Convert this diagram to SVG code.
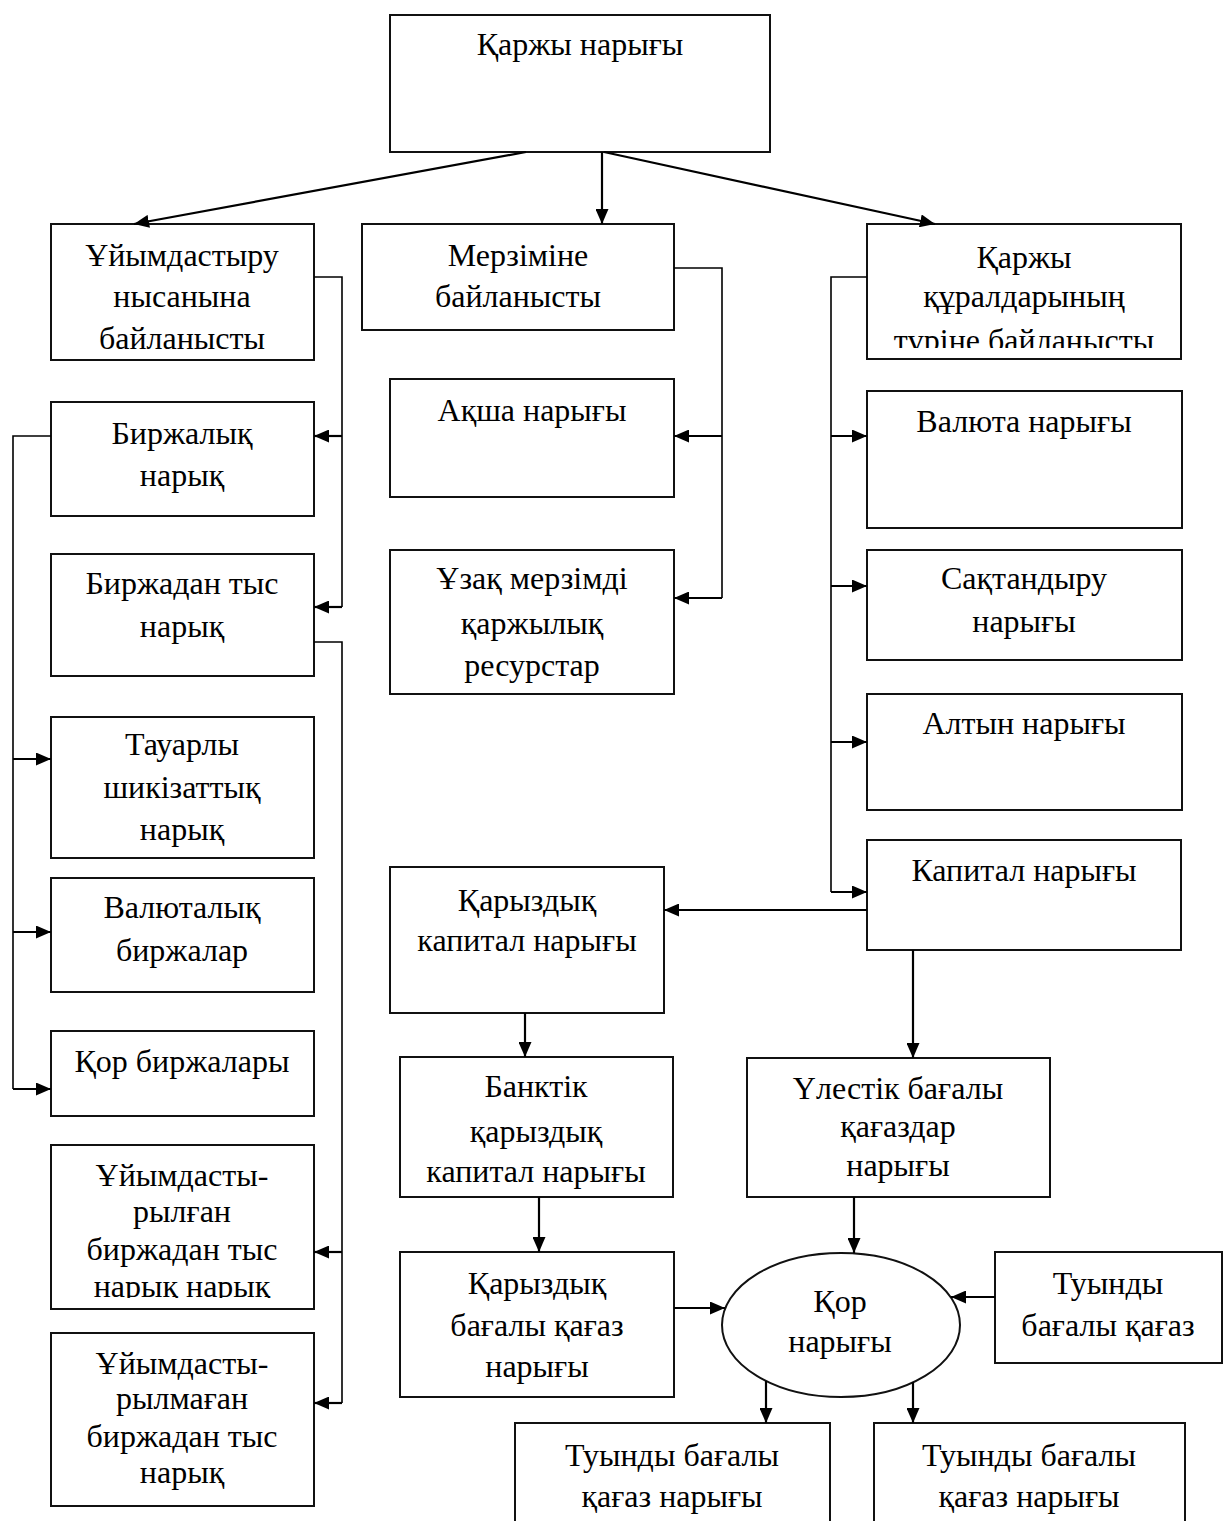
<svg xmlns="http://www.w3.org/2000/svg" width="1224" height="1521" viewBox="0 0 1224 1521">
<style>
.box{fill:#fff;stroke:#111;stroke-width:2}
.t{font-family:"Liberation Serif","Times New Roman",serif;font-size:32px;fill:#000;text-anchor:middle}
.ln{fill:none;stroke:#000;stroke-width:1.6}
.ar{fill:none;stroke:#000;stroke-width:2.2;marker-end:url(#ah)}
</style>
<defs>
<marker id="ah" viewBox="0 0 10 10" refX="10" refY="5" markerWidth="15" markerHeight="13" markerUnits="userSpaceOnUse" orient="auto" preserveAspectRatio="none">
<path d="M0,0 L10,5 L0,10 z" fill="#000"/>
</marker>
<clipPath id="c1"><rect x="867" y="224" width="314" height="124"/></clipPath>
<clipPath id="c2"><rect x="51" y="1145" width="263" height="153"/></clipPath>
</defs>
<rect width="1224" height="1521" fill="#fff"/>
<g id="n-top"><rect class="box" x="390" y="15" width="380" height="137"/><text class="t" x="580" y="55">Қаржы нарығы</text></g>
<g id="n-org"><rect class="box" x="51" y="224" width="263" height="136"/><text class="t" x="182" y="266">Ұйымдастыру</text><text class="t" x="182" y="307">нысанына</text><text class="t" x="182" y="349">байланысты</text></g>
<g id="n-term"><rect class="box" x="362" y="224" width="312" height="106"/><text class="t" x="518" y="266">Мерзіміне</text><text class="t" x="518" y="307">байланысты</text></g>
<g id="n-instr"><rect class="box" x="867" y="224" width="314" height="135"/><g clip-path="url(#c1)"><text class="t" x="1024" y="268">Қаржы</text><text class="t" x="1024" y="307">құралдарының</text><text class="t" x="1024" y="351">түріне байланысты</text></g></g>
<g id="n-exch"><rect class="box" x="51" y="402" width="263" height="114"/><text class="t" x="182" y="444">Биржалық</text><text class="t" x="182" y="486">нарық</text></g>
<g id="n-otc"><rect class="box" x="51" y="554" width="263" height="122"/><text class="t" x="182" y="594">Биржадан тыс</text><text class="t" x="182" y="637">нарық</text></g>
<g id="n-comm"><rect class="box" x="51" y="717" width="263" height="141"/><text class="t" x="182" y="755">Тауарлы</text><text class="t" x="182" y="798">шикізаттық</text><text class="t" x="182" y="840">нарық</text></g>
<g id="n-curx"><rect class="box" x="51" y="878" width="263" height="114"/><text class="t" x="182" y="918">Валюталық</text><text class="t" x="182" y="961">биржалар</text></g>
<g id="n-stockx"><rect class="box" x="51" y="1031" width="263" height="85"/><text class="t" x="182" y="1072">Қор биржалары</text></g>
<g id="n-orgotc"><rect class="box" x="51" y="1145" width="263" height="164"/><g clip-path="url(#c2)"><text class="t" x="182" y="1186">Ұйымдасты-</text><text class="t" x="182" y="1222">рылған</text><text class="t" x="182" y="1260">биржадан тыс</text><text class="t" x="182" y="1297">нарық нарық</text></g></g>
<g id="n-unorgotc"><rect class="box" x="51" y="1333" width="263" height="173"/><text class="t" x="182" y="1374">Ұйымдасты-</text><text class="t" x="182" y="1409">рылмаған</text><text class="t" x="182" y="1447">биржадан тыс</text><text class="t" x="182" y="1483">нарық</text></g>
<g id="n-money"><rect class="box" x="390" y="379" width="284" height="118"/><text class="t" x="532" y="421">Ақша нарығы</text></g>
<g id="n-long"><rect class="box" x="390" y="550" width="284" height="144"/><text class="t" x="532" y="589">Ұзақ мерзімді</text><text class="t" x="532" y="634">қаржылық</text><text class="t" x="532" y="676">ресурстар</text></g>
<g id="n-fx"><rect class="box" x="867" y="391" width="315" height="137"/><text class="t" x="1024" y="432">Валюта нарығы</text></g>
<g id="n-ins"><rect class="box" x="867" y="550" width="315" height="110"/><text class="t" x="1024" y="589">Сақтандыру</text><text class="t" x="1024" y="632">нарығы</text></g>
<g id="n-gold"><rect class="box" x="867" y="694" width="315" height="116"/><text class="t" x="1024" y="734">Алтын нарығы</text></g>
<g id="n-cap"><rect class="box" x="867" y="840" width="314" height="110"/><text class="t" x="1024" y="881">Капитал нарығы</text></g>
<g id="n-loan"><rect class="box" x="390" y="867" width="274" height="146"/><text class="t" x="527" y="911">Қарыздық</text><text class="t" x="527" y="951">капитал нарығы</text></g>
<g id="n-bank"><rect class="box" x="400" y="1057" width="273" height="140"/><text class="t" x="536" y="1097">Банктік</text><text class="t" x="536" y="1142">қарыздық</text><text class="t" x="536" y="1182">капитал нарығы</text></g>
<g id="n-equity"><rect class="box" x="747" y="1058" width="303" height="139"/><text class="t" x="898" y="1099">Үлестік бағалы</text><text class="t" x="898" y="1137">қағаздар</text><text class="t" x="898" y="1176">нарығы</text></g>
<g id="n-debt"><rect class="box" x="400" y="1252" width="274" height="145"/><text class="t" x="537" y="1294">Қарыздық</text><text class="t" x="537" y="1336">бағалы қағаз</text><text class="t" x="537" y="1377">нарығы</text></g>
<g id="n-stock"><ellipse class="box" cx="841" cy="1325" rx="119" ry="72"/><text class="t" x="840" y="1312">Қор</text><text class="t" x="840" y="1352">нарығы</text></g>
<g id="n-deriv"><rect class="box" x="995" y="1252" width="227" height="111"/><text class="t" x="1108" y="1294">Туынды</text><text class="t" x="1108" y="1336">бағалы қағаз</text></g>
<g id="n-der1"><rect class="box" x="515" y="1423" width="315" height="110"/><text class="t" x="672" y="1466">Туынды бағалы</text><text class="t" x="672" y="1507">қағаз нарығы</text></g>
<g id="n-der2"><rect class="box" x="874" y="1423" width="311" height="110"/><text class="t" x="1029" y="1466">Туынды бағалы</text><text class="t" x="1029" y="1507">қағаз нарығы</text></g>
<g id="connectors">
<path class="ar" d="M526,152 L134,224"/>
<path class="ar" d="M602,152 L602,224"/>
<path class="ar" d="M604,152 L935,224"/>
<path class="ln" d="M314,277 H342 V607"/>
<path class="ar" d="M342,436 H314"/>
<path class="ar" d="M342,607 H314"/>
<path class="ln" d="M51,436 H13 V1089"/>
<path class="ar" d="M13,759 H51"/>
<path class="ar" d="M13,932 H51"/>
<path class="ar" d="M13,1089 H51"/>
<path class="ln" d="M314,642 H342 V1403"/>
<path class="ar" d="M342,1252 H314"/>
<path class="ar" d="M342,1403 H314"/>
<path class="ln" d="M674,268 H722 V598"/>
<path class="ar" d="M722,436 H674"/>
<path class="ar" d="M722,598 H674"/>
<path class="ln" d="M867,277 H831 V892"/>
<path class="ar" d="M831,436 H867"/>
<path class="ar" d="M831,586 H867"/>
<path class="ar" d="M831,742 H867"/>
<path class="ar" d="M831,892 H867"/>
<path class="ar" d="M867,910 H664"/>
<path class="ar" d="M525,1013 V1057"/>
<path class="ar" d="M913,950 V1058"/>
<path class="ar" d="M539,1197 V1252"/>
<path class="ar" d="M854,1197 V1253"/>
<path class="ar" d="M674,1308 H725"/>
<path class="ar" d="M995,1297 H951"/>
<path class="ar" d="M766,1381 V1423"/>
<path class="ar" d="M913,1382 V1423"/>
</g>
</svg>
